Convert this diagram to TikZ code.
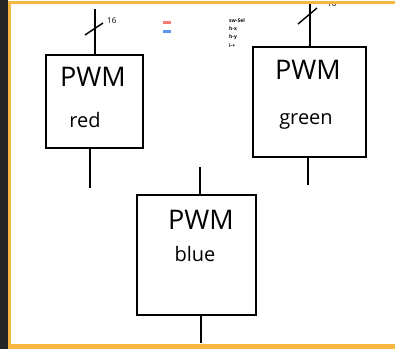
\documentclass[tikz,border=0pt]{standalone}
\usepackage{fontspec}
\setmainfont{Open Sans}
\begin{document}
\begin{tikzpicture}[x=1pt,y=-1pt,
  pwmbox/.style={draw=black,line width=2.4pt,minimum width=#1,inner sep=0pt},
  wire/.style={line width=1.8pt,black},
  thinwire/.style={line width=1.4pt,black},
  big/.style={font=\fontsize{27}{27}\selectfont,inner sep=0pt},
  small/.style={font=\fontsize{20}{20}\selectfont,inner sep=0pt},
  tiny/.style={font=\fontsize{5}{5}\selectfont\bfseries,inner sep=0pt,anchor=west},
  wlabel/.style={font=\fontsize{8}{8}\selectfont,inner sep=0pt,anchor=west}]
\definecolor{darkbg}{HTML}{262626}
\definecolor{frame}{HTML}{F5B73F}
\useasboundingbox (0,0) rectangle (395,349);
\fill[white] (0,0) rectangle (395,349);
\begin{scope}
\clip (11,4) rectangle (395,344);
% boxes
\node[pwmbox=97pt,minimum height=93pt] (red) at (94.5,101.5) {};
\node[pwmbox=113pt,minimum height=110pt] (green) at (309.5,102) {};
\node[pwmbox=119pt,minimum height=120pt] (blue) at (196.5,255) {};
% texts
\node[big] (redt1) at (93,77) {PWM};
\node[small] (redt2) at (85,120) {red};
\node[big] (greent1) at (308,70) {PWM};
\node[small] (greent2) at (306,121) {green};
\node[big] (bluet1) at (201,220) {PWM};
\node[small] (bluet2) at (195,254) {blue};
% wire end points
\coordinate (r1) at (95,9);
\coordinate (r2) at (90,188);
\coordinate (g1) at (310,0);
\coordinate (g2) at (308,185);
\coordinate (b1) at (200,167);
\coordinate (b2) at (201,343);
\draw[wire] (r1) -- (r1 |- red.north);
\draw[thinwire] (r2 |- red.south) -- (r2);
\draw[wire] (g1) -- (g1 |- green.north);
\draw[thinwire] (g2 |- green.south) -- (g2);
\draw[wire] (b1) -- (b1 |- blue.north);
\draw[thinwire] (b2 |- blue.south) -- (b2);
% bus slashes
\coordinate (rs1) at (85,35); \coordinate (rs2) at (103,23);
\draw[line width=1.4pt] (rs1) -- (rs2);
\node[wlabel] (r16) at (107,21) {16};
\coordinate (gs1) at (298,24); \coordinate (gs2) at (317,8);
\draw[line width=1.4pt] (gs1) -- (gs2);
\node[wlabel] (g16) at (327,4) {16};
% legend dashes
\coordinate (d1) at (163,22.5); \coordinate (d2) at (171,22.5);
\draw[line width=2.2pt,color={rgb,255:red,245;green,120;blue,120}] (d1) -- (d2);
\coordinate (d3) at (163,31.5); \coordinate (d4) at (171,31.5);
\draw[line width=2.2pt,color={rgb,255:red,90;green,150;blue,245}] (d3) -- (d4);
% tiny notes
\node[tiny] (n1) at (229,20.5) {sw-Sel};
\node[tiny] (n2) at (229,29) {h-x};
\node[tiny] (n3) at (229,37.5) {h-y};
\node[tiny] (n4) at (229,46) {i-+};
\end{scope}
% editor frame
\fill[darkbg] (0,0) rectangle (7.5,349);
\fill[frame] (7.5,1) rectangle (395,4);
\fill[frame] (7.5,344) rectangle (395,349);
\fill[frame] (7.5,1) rectangle (11,349);
\end{tikzpicture}
\end{document}
